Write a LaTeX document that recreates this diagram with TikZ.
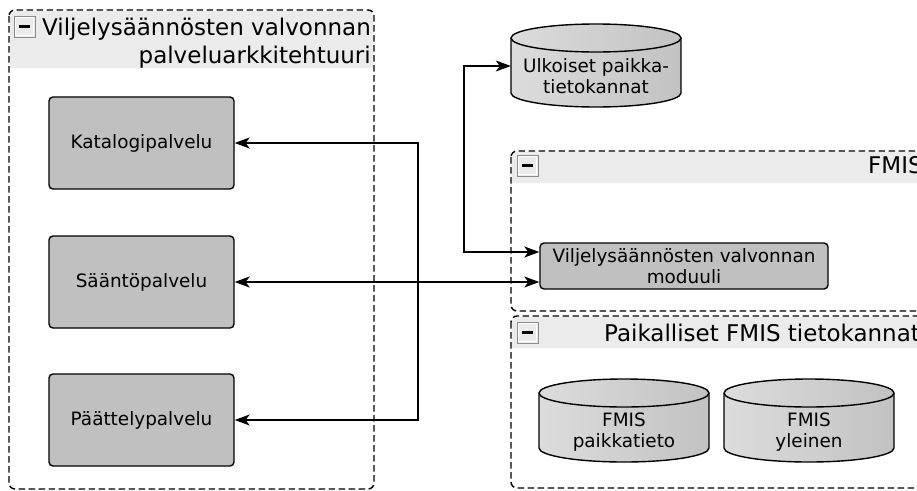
\documentclass[tikz,border=0pt]{standalone}
\usepackage{fontspec}
\setmainfont{DejaVu Sans}
\usetikzlibrary{arrows.meta}
\definecolor{boxgray}{HTML}{C0C0C0}
\definecolor{hdr}{HTML}{EBEBEB}
\definecolor{icongray}{HTML}{8C8C8C}
\definecolor{cylL}{HTML}{DCDCDC}
\definecolor{cylR}{HTML}{C2C2C2}
\newcommand\myBody{\fontsize{18.4}{21.5}\selectfont}
\newcommand\myTitle{\fontsize{23}{28}\selectfont}
\newcommand\cicon[2]{%
  \draw[line width=0.9pt, draw=icongray, fill=hdr] (#1,-#2) rectangle ++(21,-21);
  \draw[line width=0.6pt, white] (#1+1.3,-#2-1.3) rectangle ++(18.4,-18.4);
  \fill (#1+5,-#2-9.1) rectangle ++(11,-2.8);
}
\begin{document}
\begin{tikzpicture}[x=1pt,y=1pt,
  container/.style={draw, dash pattern=on 6.5pt off 3.5pt, line width=1.4pt, rounded corners=6pt},
  svcbox/.style={draw, line width=1.4pt, rounded corners=4pt, fill=boxgray, inner sep=0pt, font=\myBody, align=center},
  cyl/.style={draw, line width=1.4pt, left color=cylL, right color=cylR},
  lbl/.style={font=\myBody, align=center, inner sep=0pt},
  ttl/.style={font=\myTitle, inner sep=0pt},
  conn/.style={line width=1.3pt, {Stealth[length=15pt,width=11pt,inset=4pt]}-{Stealth[length=15pt,width=11pt,inset=4pt]}}
]
\useasboundingbox (0,0) rectangle (917,-490);
\clip (0,0) rectangle (917,-490);

% header bands
\fill[hdr] (10,-68) [rounded corners=6pt] -- (10,-11) -- (373,-11) [sharp corners] -- (373,-68) -- cycle;
\fill[hdr] (512,-183) [rounded corners=6pt] -- (512,-152) -- (940,-152) [sharp corners] -- (940,-183) -- cycle;
\fill[hdr] (512,-348) [rounded corners=6pt] -- (512,-317) -- (940,-317) [sharp corners] -- (940,-348) -- cycle;

% containers
\draw[container] (9,-10) rectangle (374,-489);
\draw[container] (511,-151) rectangle (940,-311);
\draw[container] (511,-316) rectangle (940,-488);

% icons
\cicon{14}{16}
\cicon{517}{155}
\cicon{517}{322}

% titles
\node[ttl, align=right, anchor=north east] (t1) at (371,-17.9) {Viljelysäännösten valvonnan\\palveluarkkitehtuuri};
\node[ttl, anchor=base west] (t2) at (868,-173.4) {FMIS};
\node[ttl, anchor=base west] (t3) at (604,-341.4) {Paikalliset FMIS tietokannat};

% service boxes
\node[svcbox, minimum width=185pt, minimum height=92pt] (kat) at (141.5,-143) {Katalogipalvelu};
\node[svcbox, minimum width=185pt, minimum height=92pt] (saa) at (141.5,-282) {Sääntöpalvelu};
\node[svcbox, minimum width=185pt, minimum height=92pt] (pae) at (141.5,-420) {Päättelypalvelu};
\node[svcbox, minimum width=288pt, minimum height=46pt] (mod) at (684,-266) {Viljelysäännösten valvonnan\\moduuli};

% cylinders
\path[cyl] (511,-38) -- (511,-93) arc[start angle=180,end angle=360,x radius=85pt,y radius=14pt] -- (681,-38) arc[start angle=0,end angle=180,x radius=85pt,y radius=14pt] -- cycle;
\draw[line width=1.4pt] (511,-38) arc[start angle=180,end angle=360,x radius=85pt,y radius=14pt];
\node[inner sep=0pt, minimum width=170pt, minimum height=83pt] (ulk) at (596,-66) {};
\node[lbl] (ulkt) at (596,-76) {Ulkoiset paikka-\\tietokannat};

\path[cyl] (539,-393) -- (539,-448) arc[start angle=180,end angle=360,x radius=85pt,y radius=14pt] -- (709,-393) arc[start angle=0,end angle=180,x radius=85pt,y radius=14pt] -- cycle;
\draw[line width=1.4pt] (539,-393) arc[start angle=180,end angle=360,x radius=85pt,y radius=14pt];
\node[lbl] (fp) at (624,-432) {FMIS\\paikkatieto};

\path[cyl] (724,-393) -- (724,-448) arc[start angle=180,end angle=360,x radius=85pt,y radius=14pt] -- (894,-393) arc[start angle=0,end angle=180,x radius=85pt,y radius=14pt] -- cycle;
\draw[line width=1.4pt] (724,-393) arc[start angle=180,end angle=360,x radius=85pt,y radius=14pt];
\node[lbl] (fy) at (809,-432) {FMIS\\yleinen};

% connectors
\coordinate (jx) at (418,-282);
\coordinate (jy) at (464,-252);
\draw[conn] (kat.east) -| (jx) |- (pae.east);
\draw[conn] (saa.east) -- (saa.east -| mod.west);
\draw[conn] (ulk.west) -| (jy) -- (jy -| mod.west);
\end{tikzpicture}
\end{document}
